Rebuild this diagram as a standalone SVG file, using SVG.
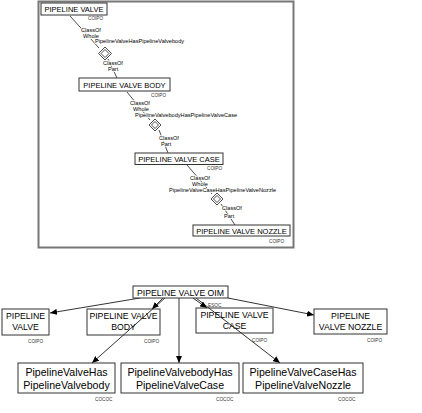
<svg xmlns="http://www.w3.org/2000/svg" width="422" height="413" viewBox="0 0 422 413">
<style>
text{font-family:"Liberation Sans",Arial,sans-serif;fill:#000}
.box{fill:#fff;stroke:#333;stroke-width:1}
.boxo{fill:none;stroke:#333;stroke-width:1}
.t1{font-size:7.5px;text-anchor:middle}
.t2{font-size:8.7px;text-anchor:middle}
.t3{font-size:10.6px;text-anchor:middle}
.lb{font-size:5.6px;paint-order:stroke;stroke:#fff;stroke-width:1.5px}
.sm{font-size:4.7px;fill:#333}
.ln{fill:none;stroke:#000;stroke-width:0.7}
.ar{fill:none;stroke:#000;stroke-width:0.8}
.dia{fill:#fff;stroke:#000;stroke-width:0.7}
</style>
<defs>
<marker id="ah" markerUnits="userSpaceOnUse" markerWidth="8" markerHeight="6" refX="7" refY="3" orient="auto">
<path d="M0,0 L7,3 L0,6 Z" fill="#000"/>
</marker>
</defs>
<rect x="38.5" y="1.5" width="255" height="246" fill="#fff" stroke="#777" stroke-width="2"/>
<g id="connectors">
<path class="ln" d="M70,16 L99,48"/>
<path class="ln" d="M108,59 L117,78"/>
<path class="ln" d="M127,92 L150,120"/>
<path class="ln" d="M159,130 L168,153"/>
<path class="ln" d="M187,165 L212,194"/>
<path class="ln" d="M221,204 L235,225"/>
<path class="ar" d="M140,298 L50,313" marker-end="url(#ah)"/>
<path class="ar" d="M163,298 L152,309" marker-end="url(#ah)"/>
<path class="ar" d="M165,298 L92,363" marker-end="url(#ah)"/>
<path class="ar" d="M179,298 L179,363" marker-end="url(#ah)"/>
<path class="ar" d="M193,298 L207,308" marker-end="url(#ah)"/>
<path class="ar" d="M196,298 L280,363" marker-end="url(#ah)"/>
<path class="ar" d="M228,298 L314,315" marker-end="url(#ah)"/>
</g>
<g id="rel1">
<polygon class="dia" points="105,47 111.5,53.5 105,60 98.5,53.5"/>
<polygon class="dia" points="105,49.5 109,53.5 105,57.5 101,53.5"/>
<text class="lb" x="81" y="32">ClassOf</text>
<text class="lb" x="83" y="38">Whole</text>
<text class="lb" x="95" y="43">PipelineValveHasPipelineValvebody</text>
<text class="lb" x="103" y="65">ClassOf</text>
<text class="lb" x="108" y="71">Part</text>
</g>
<g id="rel2">
<polygon class="dia" points="155,119 161,125 155,131 149,125"/>
<polygon class="dia" points="155,121.5 158.5,125 155,128.5 151.5,125"/>
<text class="lb" x="130" y="105">ClassOf</text>
<text class="lb" x="133" y="111">Whole</text>
<text class="lb" x="135" y="117">PipelineValvebodyHasPipelineValveCase</text>
<text class="lb" x="159" y="139.5">ClassOf</text>
<text class="lb" x="161" y="145.5">Part</text>
</g>
<g id="rel3">
<polygon class="dia" points="217,193 223,199 217,205 211,199"/>
<polygon class="dia" points="217,195.5 220.5,199 217,202.5 213.5,199"/>
<text class="lb" x="190" y="179.5">ClassOf</text>
<text class="lb" x="192" y="186">Whole</text>
<text class="lb" x="169" y="192">PipelineValveCaseHasPipelineValveNozzle</text>
<text class="lb" x="222" y="210">ClassOf</text>
<text class="lb" x="224" y="218">Part</text>
</g>
<g id="n_pv_top">
<rect class="box" x="41" y="3" width="66" height="12"/>
<text class="t1" x="74" y="12">PIPELINE VALVE</text>
<text class="sm" x="88" y="20">COIPO</text>
</g>
<g id="n_body_top">
<rect class="box" x="79" y="78" width="91" height="13"/>
<text class="t1" x="124.5" y="87.5">PIPELINE VALVE BODY</text>
<text class="sm" x="151" y="97">COIPO</text>
</g>
<g id="n_case_top">
<rect class="box" x="135" y="153" width="88" height="11.5"/>
<text class="t1" x="179" y="161.5">PIPELINE VALVE CASE</text>
<text class="sm" x="207" y="170">COIPO</text>
</g>
<g id="n_nozzle_top">
<rect class="box" x="193" y="225" width="97" height="11"/>
<text class="t1" x="241.5" y="233.5">PIPELINE VALVE NOZZLE</text>
<text class="sm" x="269" y="243">COIPO</text>
</g>
<g id="n_oim">
<rect class="box" x="133" y="286" width="95" height="12"/>
<text class="t2" x="180.5" y="295.5">PIPELINE VALVE OIM</text>
<text class="sm" x="208" y="307">ESOC</text>
</g>
<g id="n_pv">
<rect class="boxo" x="2" y="309" width="47" height="26"/>
<text class="t2" x="25.5" y="319">PIPELINE</text>
<text class="t2" x="25.5" y="330">VALVE</text>
<text class="sm" x="28" y="343">COIPO</text>
</g>
<g id="n_body">
<rect class="boxo" x="87" y="309" width="73" height="26"/>
<text class="t2" x="123.5" y="319">PIPELINE VALVE</text>
<text class="t2" x="123.5" y="330">BODY</text>
<text class="sm" x="144" y="343">COIPO</text>
</g>
<g id="n_case">
<rect class="boxo" x="196" y="308" width="77" height="25"/>
<text class="t2" x="234.5" y="318">PIPELINE VALVE</text>
<text class="t2" x="234.5" y="329">CASE</text>
<text class="sm" x="252" y="342">COIPO</text>
</g>
<g id="n_nozzle">
<rect class="boxo" x="314" y="309" width="73" height="25"/>
<text class="t2" x="350.5" y="319">PIPELINE</text>
<text class="t2" x="350.5" y="330">VALVE NOZZLE</text>
<text class="sm" x="367" y="342">COIPO</text>
</g>
<g id="n_hasbody">
<rect class="boxo" x="18" y="363" width="97" height="30"/>
<text class="t3" x="66.5" y="376">PipelineValveHas</text>
<text class="t3" x="66.5" y="388.5">PipelineValvebody</text>
<text class="sm" x="95" y="401">COCOC</text>
</g>
<g id="n_bodyhascase">
<rect class="boxo" x="121" y="363" width="118" height="30"/>
<text class="t3" x="180" y="376">PipelineValvebodyHas</text>
<text class="t3" x="180" y="388.5">PipelineValveCase</text>
<text class="sm" x="216" y="401">COCOC</text>
</g>
<g id="n_casehas">
<rect class="boxo" x="243" y="363" width="120" height="30"/>
<text class="t3" x="303" y="376">PipelineValveCaseHas</text>
<text class="t3" x="303" y="388.5">PipelineValveNozzle</text>
<text class="sm" x="338" y="401">COCOC</text>
</g>
</svg>
